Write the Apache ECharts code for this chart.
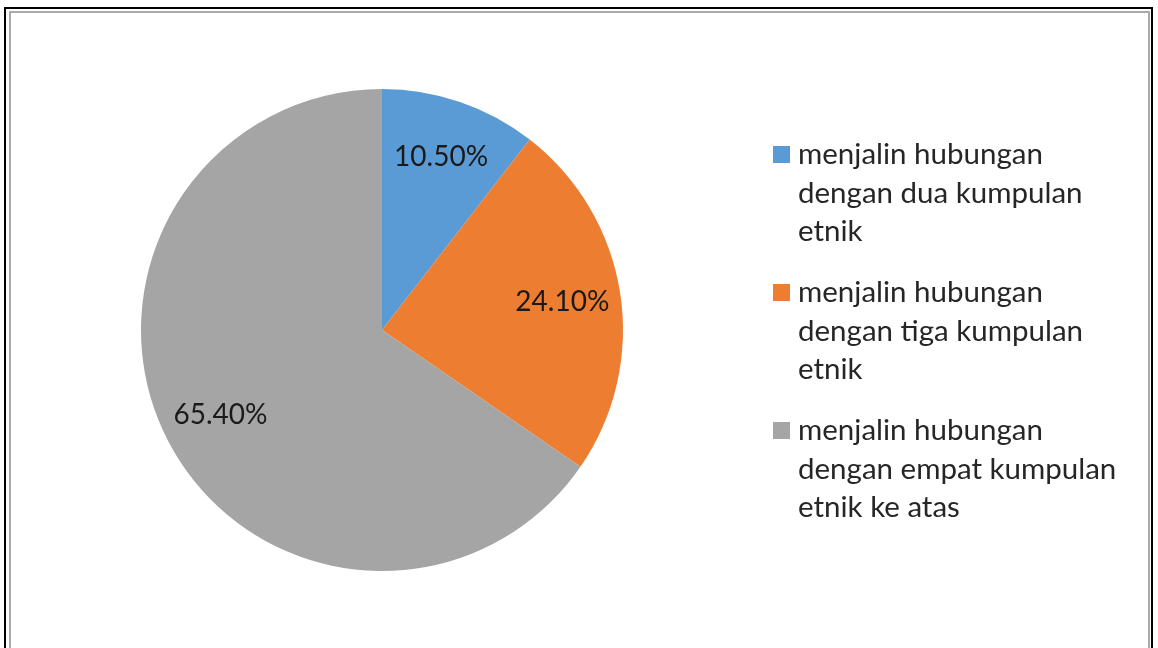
<!DOCTYPE html>
<html>
<head>
<meta charset="utf-8">
<script src="https://cdn.jsdelivr.net/npm/echarts@6/dist/echarts.min.js"></script>
<style>
  html, body { margin: 0; padding: 0; background: #fff; }
  #frame {
    position: absolute; left: 4px; top: 7px; width: 1149px; height: 660px;
    border-left: 2px solid #000; border-top: 2px solid #000; border-right: 2px solid #000;
    box-sizing: border-box;
  }
  #inner {
    position: absolute; left: 3px; top: 2px; right: 1px; bottom: 0;
    border-left: 2px solid #aaa; border-top: 2px solid #aaa; border-right: 2px solid #aaa;
  }
  #chart { position: absolute; left: 0; top: 0; width: 1158px; height: 648px; }
</style>
</head>
<body>
<div id="frame"><div id="inner"></div></div>
<div id="chart"></div>
<script>
// data
const categories = [
  'menjalin hubungan\ndengan dua kumpulan\netnik',
  'menjalin hubungan\ndengan tiga kumpulan\netnik',
  'menjalin hubungan\ndengan empat kumpulan\netnik ke atas'
];
const values = [10.5, 24.1, 65.4];
const colors = ['#5B9BD5', '#ED7D31', '#A5A5A5'];

const pieData = categories.map((name, i) => ({
  name: name,
  value: values[i],
  itemStyle: { color: colors[i] }
}));

const fontFam = 'Lato, "Open Sans", sans-serif';

let myChart = echarts.init(document.getElementById('chart'));

let option = {
  animation: false,
  legend: {
    orient: 'vertical',
    left: 773,
    top: 135,
    padding: 0,
    itemWidth: 17,
    itemHeight: 116,
    itemGap: 22,
    icon: 'path://M0,0h0.01v0.01h-0.01z M0,11h17v17h-17z M0,116h0.01v0.01h-0.01z',
    data: categories,
    textStyle: {
      fontFamily: fontFam,
      fontSize: 29.5,
      lineHeight: 38.5,
      color: '#262626',
      padding: [0, 0, 0, 3]
    },
    itemStyle: { borderWidth: 0 }
  },
  series: [
    {
      name: 'pie',
      type: 'pie',
      center: [382, 330],
      radius: [0, 241],
      startAngle: 90,
      label: { show: false },
      labelLine: { show: false },
      data: pieData
    },
    {
      // transparent ring used only to place the percentage labels
      name: 'labels',
      type: 'pie',
      center: [382, 330],
      radius: [118, 241],
      startAngle: 90,
      silent: true,
      itemStyle: { color: 'rgba(0,0,0,0)' },
      label: {
        show: true,
        position: 'inside',
        formatter: p => p.value.toFixed(2) + '%',
        fontFamily: fontFam,
        fontSize: 28,
        color: '#1a1a1a'
      },
      labelLine: { show: false },
      data: values.map((v, i) => ({ name: categories[i], value: v }))
    }
  ]
};

myChart.setOption(option);
</script>
</body>
</html>
